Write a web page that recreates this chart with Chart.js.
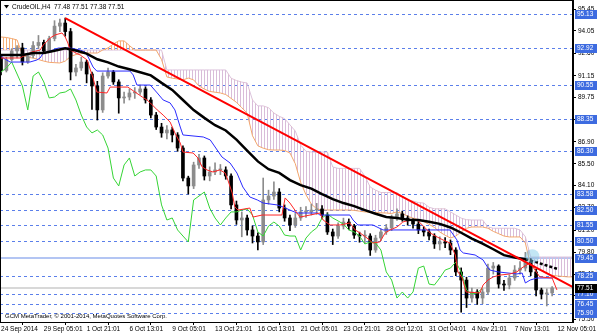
<!DOCTYPE html>
<html>
<head>
<meta charset="utf-8">
<script src="https://cdn.jsdelivr.net/npm/chart.js@4.4.1/dist/chart.umd.min.js"></script>
<style>
  html, body { margin: 0; padding: 0; background: #fff; }
  #wrap { width: 600px; height: 333px; position: relative; }
</style>
</head>
<body>
<div id="wrap"><canvas id="chart"></canvas></div>
<script>
// CrudeOIL H4, one slot = 2 bars

const timeLabels = ['24 Sep 2014', '29 Sep 05:01', '1 Oct 21:01', '6 Oct 13:01', '9 Oct 05:01', '13 Oct 21:01',
    '16 Oct 13:01', '21 Oct 05:01', '23 Oct 21:01', '28 Oct 12:01', '31 Oct 04:01', '4 Nov 21:01', '7 Nov 13:01', '12 Nov 05:01'];
const slotsPerLabel = 8;

const open = [92.30, 91.50, 92.20, 92.75, 92.95, 92.05, 92.45, 93.10, 93.30, 92.75,
    93.55, 94.35, 94.55, 94.00, 91.40, 91.66, 92.04, 91.27, 90.50, 88.96,
    91.14, 91.40, 90.76, 89.73, 89.79, 90.05, 90.11, 90.31, 89.60, 88.63,
    87.86, 87.48, 87.67, 87.35, 86.51, 84.58, 84.07, 85.42, 85.87, 84.71,
    84.97, 85.10, 85.10, 84.71, 82.85, 81.88, 82.01, 81.24, 80.85, 80.47,
    83.17, 83.42, 83.68, 82.65, 82.01, 81.56, 82.01, 82.40, 82.40, 82.52,
    82.59, 82.20, 81.11, 80.85, 81.49, 81.75, 81.49, 80.91, 80.85, 80.85,
    79.95, 80.72, 81.11, 81.37, 82.01, 82.27, 82.01, 81.82, 81.62, 81.24,
    81.11, 80.85, 80.34, 80.47, 80.40, 79.95, 78.54, 78.02, 76.86, 77.25,
    76.86, 77.25, 78.79, 78.92, 77.76, 77.70, 78.15, 78.66, 78.79, 79.18,
    78.54, 77.38, 77.12, 77.19];
const high = [92.49, 92.35, 92.90, 93.10, 93.25, 92.55, 93.35, 93.75, 93.45, 93.70,
    94.70, 94.80, 94.87, 94.20, 91.90, 92.35, 92.15, 91.40, 90.80, 91.35,
    91.65, 91.50, 90.90, 90.10, 90.30, 90.40, 90.55, 90.45, 89.75, 88.80,
    88.10, 87.95, 87.85, 87.50, 86.65, 84.70, 85.60, 86.10, 86.00, 85.30,
    85.55, 85.45, 85.30, 84.85, 83.10, 82.40, 82.20, 81.50, 81.05, 84.58,
    83.80, 84.33, 83.90, 82.85, 82.20, 82.30, 82.70, 82.75, 82.90, 82.95,
    82.80, 82.35, 81.30, 81.70, 82.00, 81.95, 81.60, 81.10, 81.20, 81.00,
    80.90, 81.30, 81.60, 82.20, 82.60, 82.45, 82.15, 81.95, 81.80, 81.45,
    81.30, 81.00, 80.80, 80.75, 80.60, 80.10, 78.80, 78.20, 77.50, 77.40,
    77.45, 79.05, 79.15, 79.00, 78.00, 78.35, 78.95, 79.20, 79.80, 79.40,
    78.70, 77.50, 77.45, 77.60];
const low = [91.21, 91.40, 92.10, 92.30, 91.85, 91.95, 92.30, 92.90, 92.60, 92.65,
    93.40, 94.00, 93.70, 90.89, 91.15, 91.50, 90.70, 89.00, 88.31, 88.80,
    91.00, 90.60, 88.75, 89.40, 89.60, 89.70, 89.95, 89.40, 88.45, 87.70,
    87.20, 87.10, 86.90, 86.30, 84.40, 83.55, 83.90, 85.20, 84.45, 84.40,
    84.80, 84.80, 84.50, 82.60, 81.60, 80.80, 80.90, 80.40, 79.95, 80.30,
    82.90, 83.20, 82.40, 81.80, 81.20, 81.40, 81.85, 82.05, 82.20, 82.25,
    81.95, 80.95, 80.30, 80.70, 81.30, 81.25, 80.70, 80.45, 80.40, 79.60,
    79.80, 80.55, 80.95, 81.20, 81.85, 81.80, 81.55, 81.35, 81.00, 80.85,
    80.60, 80.05, 79.95, 80.10, 79.65, 78.30, 75.95, 76.25, 76.60, 76.45,
    76.50, 77.10, 78.40, 77.50, 77.35, 77.45, 78.00, 78.40, 78.60, 78.30,
    77.00, 76.80, 76.35, 77.00];
const close = [91.50, 92.20, 92.75, 92.95, 92.05, 92.45, 93.10, 93.30, 92.75, 93.55,
    94.35, 94.55, 94.00, 91.40, 91.66, 92.04, 91.27, 90.50, 88.96, 91.14,
    91.40, 90.76, 89.73, 89.79, 90.05, 90.11, 90.31, 89.60, 88.63, 87.86,
    87.48, 87.67, 87.35, 86.51, 84.58, 84.07, 85.42, 85.87, 84.71, 84.97,
    85.10, 85.10, 84.71, 82.85, 81.88, 82.01, 81.24, 80.85, 80.47, 83.17,
    83.42, 83.68, 82.65, 82.01, 81.56, 82.01, 82.40, 82.40, 82.52, 82.59,
    82.20, 81.11, 80.85, 81.49, 81.75, 81.49, 80.91, 80.85, 80.85, 79.95,
    80.72, 81.11, 81.37, 82.01, 82.27, 82.01, 81.82, 81.62, 81.24, 81.11,
    80.85, 80.34, 80.47, 80.40, 79.95, 78.54, 78.02, 76.86, 77.25, 76.86,
    77.25, 78.79, 78.92, 77.76, 77.70, 78.15, 78.66, 78.79, 79.18, 78.54,
    77.38, 77.12, 77.19, 77.51];

// ichimoku lines, [slot, price]
const tenkan = [[0, 92.30], [3.5, 92.30], [5.8, 92.69], [7.3, 92.81], [7.9, 93.14], [9.2, 93.59], [10.1, 93.78],
    [11.4, 93.91], [12, 93.65], [12.5, 93.26], [12.9, 92.81], [14.8, 92.49], [16.1, 92.17], [17.2, 91.01],
    [17.9, 90.11], [19.8, 90.05], [20.4, 90.43], [23.7, 90.43], [24.5, 90.24], [26.4, 89.79], [27.3, 89.60],
    [27.9, 89.41], [29.2, 88.96], [30.3, 88.63], [31.6, 88.18], [32.5, 87.48], [33.5, 86.83], [34, 86.25],
    [35.9, 86.19], [36.8, 85.87], [37.6, 85.29], [38.5, 85.10], [39.6, 84.97], [40.9, 85.10], [41.9, 84.90],
    [42.4, 84.45], [43.2, 83.62], [43.7, 82.72], [44.3, 82.52], [46.5, 82.65], [47.1, 82.07], [48.8, 82.20],
    [52.5, 82.20], [53.1, 83.30], [54, 82.97], [55.3, 82.33], [55.9, 82.07], [59.6, 82.33], [60.2, 81.88],
    [61.5, 81.56], [63.4, 81.56], [65.2, 81.69], [66.2, 81.24], [67.1, 81.05], [68.4, 80.72], [69.5, 80.40],
    [70.8, 80.47], [71.8, 81.05], [72.7, 81.24], [74, 81.43], [75.1, 81.75], [76.4, 81.88], [77.8, 81.88],
    [80.2, 81.05], [81.5, 80.79], [82.6, 80.60], [83.9, 80.40], [84.9, 79.63], [85.4, 78.54], [86.2, 78.15],
    [86.9, 77.25], [89.5, 77.19], [90.1, 77.70], [91, 78.02], [92, 78.22], [93.3, 78.34], [95.1, 78.41],
    [96.4, 78.54], [97.6, 78.86], [98.9, 79.12], [99.8, 78.66], [100.7, 78.22], [103, 78.15], [103.9, 77.38]];
const kijun = [[0, 92.49], [0.4, 92.30], [1.7, 92.04], [5.4, 92.04], [6.7, 92.17], [7.3, 92.30], [7.9, 92.62],
    [9.7, 92.81], [10.7, 92.94], [12.9, 92.94], [14.8, 92.81], [15.7, 92.69], [16.3, 92.36], [17.2, 91.72],
    [17.9, 91.46], [24.1, 91.46], [24.7, 91.21], [25.4, 90.56], [27.9, 90.56], [29.2, 90.05], [30.3, 89.60],
    [31.6, 89.41], [32.5, 88.96], [33.5, 87.86], [34, 87.35], [37.8, 87.22], [39.1, 87.03], [40.4, 86.38],
    [41.3, 85.93], [42.8, 85.55], [44.1, 84.90], [45.2, 84.00], [46.5, 83.36], [47.9, 83.17], [49, 82.97],
    [51.6, 82.85], [52.7, 82.72], [54, 82.52], [55.3, 82.33], [59.1, 82.33], [59.6, 82.20], [65.2, 82.20],
    [65.8, 81.88], [66.7, 81.56], [69.5, 81.56], [71.4, 81.24], [83.9, 81.24], [85.2, 80.60], [85.8, 79.95],
    [86.4, 79.76], [88.6, 79.63], [90.1, 79.31], [90.9, 78.86], [91.4, 78.66], [92.9, 78.54], [96.4, 78.41],
    [97.4, 78.47], [98, 77.83], [98.9, 78.02], [100.2, 78.15], [103.2, 78.15]];
const spanA = [93.65, 93.62, 93.55, 93.46, 92.50, 92.33, 92.30, 92.20, 92.10, 92.02,
    92.00, 91.98, 92.10, 92.40, 92.52, 92.58, 92.62, 92.62, 92.62, 92.81,
    92.95, 93.20, 93.40, 93.40, 93.10, 92.81, 92.81, 92.81, 92.81, 92.81,
    92.20, 91.08, 91.00, 90.95, 90.89, 91.01, 90.89, 90.50, 90.30, 90.15,
    90.10, 90.05, 89.95, 89.70, 89.45, 89.10, 88.76, 87.30, 86.65, 86.50,
    86.40, 86.38, 86.38, 86.35, 86.19, 85.50, 84.30, 83.50, 82.90, 82.60,
    82.52, 82.52, 82.52, 82.52, 82.52, 82.52, 82.50, 82.45, 82.40, 82.38,
    82.36, 82.34, 82.33, 82.30, 82.40, 82.30, 82.12, 82.00, 81.90, 81.78,
    81.60, 81.40, 81.11, 80.90, 80.72, 80.85, 81.11, 81.35, 81.43, 81.43,
    81.43, 81.35, 81.15, 81.00, 80.85, 80.79, 80.79, 80.79, 80.40, 78.90,
    78.75, 78.62, 78.47, 78.32, 78.28, 78.25, 78.22, 78.22];
const spanB = [92.81, 92.81, 92.81, 92.81, 92.81, 92.81, 92.81, 92.81, 92.81, 92.81,
    92.81, 92.81, 92.81, 92.81, 92.81, 92.81, 92.81, 92.81, 92.81, 92.81,
    92.81, 92.81, 92.81, 92.81, 92.81, 92.81, 92.81, 92.81, 92.81, 92.81,
    92.81, 91.53, 91.53, 91.53, 91.53, 91.53, 91.53, 91.53, 91.53, 91.53,
    91.53, 91.53, 91.53, 91.00, 90.85, 90.75, 90.69, 89.60, 89.22, 89.22,
    89.10, 88.76, 88.55, 88.40, 88.00, 87.60, 86.70, 86.30, 86.25, 86.25,
    86.25, 86.25, 85.29, 85.20, 85.20, 85.20, 85.20, 85.20, 84.70, 84.00,
    83.80, 83.65, 83.65, 83.65, 83.65, 83.40, 83.15, 83.10, 83.00, 82.97,
    82.70, 82.60, 82.60, 82.60, 82.40, 82.20, 82.00, 81.90, 81.88, 81.88,
    81.88, 81.43, 81.35, 81.35, 81.35, 81.35, 81.35, 81.24, 80.80, 79.50,
    79.50, 79.50, 79.50, 79.50, 79.50, 79.50, 79.50, 79.50];
const chikouShift = 13;

// moving average
const ma = [[0, 92.49], [2, 92.49], [4, 92.50], [6, 92.62], [8, 92.62], [10, 92.77], [12, 92.92], [14, 92.78],
    [16, 92.58], [18, 92.22], [20, 92.02], [22, 91.75], [24, 91.58], [26, 91.38], [28, 91.18], [30, 90.70],
    [32, 90.25], [34, 89.60], [36, 88.95], [38, 88.45], [40, 87.98], [42, 87.64], [44, 87.05], [46, 86.35],
    [48, 85.65], [50, 85.15], [52, 84.91], [54, 84.45], [56, 84.12], [58, 83.90], [60, 83.55], [62, 83.22],
    [64, 82.97], [66, 82.77], [68, 82.52], [70, 82.28], [72, 82.07], [74, 82.01], [76, 81.90], [78, 81.88],
    [80, 81.77], [82, 81.63], [84, 81.40], [86, 81.06], [88, 80.68], [90, 80.36], [92, 80.00], [94, 79.62],
    [96, 79.47], [98, 79.36]];
const maAhead = [[98, 79.36], [100, 79.17], [102, 78.95], [104, 78.73]];

const trendLine = [[12, 94.87], [106.9, 77.57]];
const marker = [[99.3, 79.55]];

// levels
const dottedLevels = [95.13, 92.92, 90.55, 88.35, 86.30, 83.58, 82.50, 81.55, 80.50, 78.25, 77.10, 76.45, 75.90];
const solidLevel = 79.45;
const lastPrice = 77.51;
const priceTicks = [95.45, 94.05, 92.60, 91.15, 89.75, 88.35, 86.90, 85.50, 84.10, 82.70, 81.20, 79.80, 78.40, 77.00, 75.50];

const FONT = '"Liberation Sans", Arial, sans-serif';

const canvas = document.getElementById('chart');
const ctx0 = canvas.getContext('2d');

function hatch(color) {
    const c = document.createElement('canvas');
    c.width = 3;
    c.height = 4;
    const g = c.getContext('2d');
    g.fillStyle = color;
    g.fillRect(0, 0, 1, 4);
    return ctx0.createPattern(c, 'repeat');
}
const hatchPink = hatch('#d9bcd9');
const hatchOrange = hatch('#f5b07a');

const pts = arr => arr.map(p => ({x: p[0], y: p[1]}));
const candleColor = c => close[c.dataIndex] >= open[c.dataIndex] ? '#8c8c8c' : '#000000';

const lineBase = {type: 'line', pointRadius: 0, pointHoverRadius: 0, borderWidth: 1, tension: 0, fill: false};

const overlay = {
    id: 'overlay',
    beforeDatasetsDraw(chart) {
        const {ctx, chartArea: a, scales: {y}} = chart;
        ctx.save();
        ctx.beginPath();
        ctx.rect(a.left, a.top, a.right - a.left, a.bottom - a.top);
        ctx.clip();
        let py = Math.round(y.getPixelForValue(lastPrice));
        ctx.fillStyle = '#d8d8d8';
        ctx.fillRect(a.left, py - 1, a.right - a.left, 2);
        py = Math.round(y.getPixelForValue(solidLevel));
        ctx.fillStyle = '#b3c5f3';
        ctx.fillRect(a.left, py - 1, a.right - a.left, 2);
        ctx.strokeStyle = '#5b7fea';
        ctx.lineWidth = 1;
        ctx.setLineDash([3, 3]);
        dottedLevels.forEach(v => {
            const yy = Math.round(y.getPixelForValue(v)) + 0.5;
            ctx.beginPath();
            ctx.moveTo(a.left, yy);
            ctx.lineTo(a.right, yy);
            ctx.stroke();
        });
        ctx.restore();
    },
    afterDraw(chart) {
        const {ctx, chartArea: a, scales: {y}} = chart;
        ctx.save();
        // frame
        ctx.strokeStyle = '#000';
        ctx.lineWidth = 1;
        ctx.strokeRect(a.left + 0.5, a.top + 0.5, a.right - a.left - 1, a.bottom - a.top);

        // price boxes on the axis
        ctx.font = '6.5px ' + FONT;
        ctx.textBaseline = 'middle';
        ctx.textAlign = 'left';
        const box = (v, bg) => {
            const yy = Math.round(y.getPixelForValue(v));
            ctx.fillStyle = bg;
            ctx.fillRect(a.right + 2, yy - 4, 22, 9);
            ctx.fillStyle = '#fff';
            ctx.fillText(v.toFixed(2), a.right + 4, yy + 0.5);
        };
        dottedLevels.forEach(v => box(v, '#3d6be0'));
        box(solidLevel, '#3d6be0');
        box(lastPrice, '#000');

        // symbol line and copyright
        ctx.fillStyle = '#000';
        ctx.beginPath();
        ctx.moveTo(4, 5);
        ctx.lineTo(9, 5);
        ctx.lineTo(6.5, 8.5);
        ctx.closePath();
        ctx.fill();
        ctx.font = '6.5px ' + FONT;
        ctx.fillText('CrudeOIL,H4  77.48 77.51 77.38 77.51', 12, 7);
        ctx.font = '6px ' + FONT;
        ctx.fillText('GCM MetaTrader, \u00a9 2001-2014, MetaQuotes Software Corp.', 5, 316);
        ctx.restore();
    }
};

new Chart(canvas, {
    type: 'bar',
    data: {
        datasets: [
            Object.assign({}, lineBase, {
                label: 'Senkou A', data: spanA.map((v, i) => ({x: i, y: v})), borderColor: '#f3a66c',
                fill: {target: 1, above: hatchOrange, below: hatchPink}, order: 20
            }),
            Object.assign({}, lineBase, {
                label: 'Senkou B', data: spanB.map((v, i) => ({x: i, y: v})), borderColor: '#dcc3dc', order: 21
            }),
            {
                type: 'bar', label: 'wick', data: close.map((c, i) => ({x: i, y: [low[i], high[i]]})),
                backgroundColor: candleColor, barThickness: 1, grouped: false, borderWidth: 0, order: 10
            },
            {
                type: 'bar', label: 'body', data: close.map((c, i) => ({x: i, y: [open[i], c]})),
                backgroundColor: candleColor, barThickness: 3, minBarLength: 1, grouped: false, borderWidth: 0, order: 9
            },
            Object.assign({}, lineBase, {
                label: 'Chikou', data: close.slice(chikouShift).map((v, i) => ({x: i, y: v})),
                borderColor: '#35d435', order: 6
            }),
            Object.assign({}, lineBase, {label: 'Kijun', data: pts(kijun), borderColor: '#2b2bff', order: 5}),
            Object.assign({}, lineBase, {label: 'Tenkan', data: pts(tenkan), borderColor: '#ff2626', order: 4}),
            Object.assign({}, lineBase, {
                label: 'MA', data: pts(ma), borderColor: '#000', borderWidth: 2.5, borderCapStyle: 'round', order: 3
            }),
            Object.assign({}, lineBase, {
                label: 'MA ahead', data: pts(maAhead), borderColor: '#000', borderWidth: 2.5, borderDash: [3, 2], order: 3
            }),
            Object.assign({}, lineBase, {
                label: 'trend', data: pts(trendLine), borderColor: '#ff0000', borderWidth: 2, order: 1
            }),
            Object.assign({}, lineBase, {
                label: 'mark', data: pts(marker), showLine: false, pointRadius: 7, pointBorderWidth: 0,
                pointBackgroundColor: 'rgba(120, 200, 230, 0.45)', order: 0
            })
        ]
    },
    options: {
        responsive: true,
        maintainAspectRatio: false,
        devicePixelRatio: 1,
        animation: false,
        events: [],
        layout: {padding: 0, autoPadding: false},
        plugins: {legend: {display: false}, tooltip: {enabled: false}},
        scales: {
            x: {
                type: 'linear',
                min: -0.19,
                max: 106.9,
                offset: false,
                afterBuildTicks: s => { s.ticks = timeLabels.map((t, i) => ({value: i * slotsPerLabel})); },
                afterFit: s => { s.height = 11; s.paddingLeft = 0; s.paddingRight = 0; },
                grid: {drawOnChartArea: false, drawTicks: true, tickLength: 3, color: '#000'},
                border: {display: true, color: '#000'},
                ticks: {
                    autoSkip: false, maxRotation: 0, minRotation: 0, align: 'start', padding: 0, color: '#000',
                    font: {family: FONT, size: 6.5},
                    callback: v => timeLabels[Math.round(v / slotsPerLabel)]
                }
            },
            y: {
                type: 'linear',
                position: 'right',
                min: 75.32,
                max: 96.03,
                afterBuildTicks: s => { s.ticks = priceTicks.map(v => ({value: v})); },
                afterFit: s => { s.width = 27; s.paddingTop = 0; s.paddingBottom = 0; },
                grid: {drawOnChartArea: false, drawTicks: true, tickLength: 3, color: '#000'},
                border: {display: true, color: '#000'},
                ticks: {
                    autoSkip: false, padding: 2, color: '#000', font: {family: FONT, size: 6.5},
                    callback: v => v.toFixed(2)
                }
            }
        }
    },
    plugins: [overlay]
});
</script>
</body>
</html>
